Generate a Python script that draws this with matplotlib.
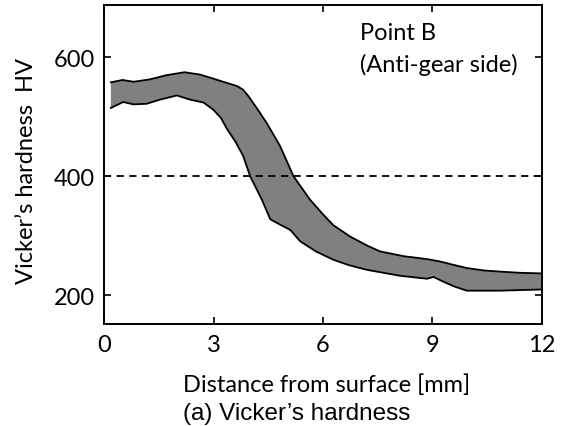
import matplotlib.pyplot as plt
import numpy as np

# Upper and lower bounds of the hardness scatter band
x_upper = [0.18, 0.5, 0.8, 1.25, 1.7, 2.2, 2.63, 3.0, 3.36, 3.63, 3.8, 3.95, 4.2, 4.46,
           4.82, 5.19, 5.64, 6.0, 6.28, 6.74, 7.2, 7.56, 8.2, 8.85, 9.21, 9.6, 9.94,
           10.4, 10.86, 11.4, 12.0]
hv_upper = [558, 562, 559, 563, 570, 575, 571, 564, 557, 552, 546, 535, 513, 489,
            451, 400, 361, 336, 318, 299, 284, 274, 266, 261, 257, 251, 246,
            242, 240, 238, 237]

x_lower = [0.18, 0.52, 0.8, 1.16, 1.53, 1.99, 2.35, 2.72, 2.99, 3.2, 3.36, 3.6, 3.81, 4.0,
           4.32, 4.55, 4.82, 5.1, 5.37, 5.8, 6.28, 6.7, 7.2, 8.11, 8.85, 9.03, 9.3,
           9.6, 9.94, 10.86, 12.0]
hv_lower = [515, 525, 521, 522, 529, 536, 529, 524, 512, 498, 480, 458, 434, 400,
            361, 328, 319, 310, 291, 274, 260, 251, 243, 233, 228, 231, 223,
            215, 208, 208, 210]

hv_limit = 400
x_ticks = [0, 3, 6, 9, 12]
y_ticks = [200, 400, 600]

plt.rcParams['font.family'] = ['Lato', 'DejaVu Sans']

fig = plt.figure(figsize=(5.71, 4.27), dpi=100)
ax = fig.add_axes([0.1827, 0.2389, 0.7663, 0.7471])

# band
band_x = np.concatenate([x_upper, x_lower[::-1]])
band_y = np.concatenate([hv_upper, hv_lower[::-1]])
ax.fill(band_x, band_y, color='#808080', lw=0)
ax.plot(x_upper, hv_upper, color='black', lw=1.3)
ax.plot(x_lower, hv_lower, color='black', lw=1.3)

# limit line
ax.plot([0, 12], [hv_limit, hv_limit], color='black', lw=1.3, linestyle=(0, (4, 3)))

ax.set_xlim(0, 12)
ax.set_ylim(152, 688)
ax.set_xticks(x_ticks)
ax.set_yticks(y_ticks)
ax.tick_params(direction='in', top=True, right=True, length=5, width=1.2,
               labelsize=17, pad=7)
for s in ax.spines.values():
    s.set_linewidth(1.4)

ax.text(7.0, 630, 'Point B', fontsize=17)
ax.text(7.0, 577, '(Anti-gear side)', fontsize=17)

fig.text(327 / 571, 1 - 392 / 427, 'Distance from surface [mm]', fontsize=17,
         ha='center', va='baseline')
fig.text(27 / 571, 1 - 171 / 427, 'Vicker\u2019s hardness  HV', fontsize=17,
         ha='center', va='center', rotation=90)
fig.text(297 / 571, 1 - 420 / 427, '(a) Vicker\u2019s hardness', fontsize=17.5,
         ha='center', va='baseline', family='Liberation Sans')

fig.savefig('out.png', dpi=100)
